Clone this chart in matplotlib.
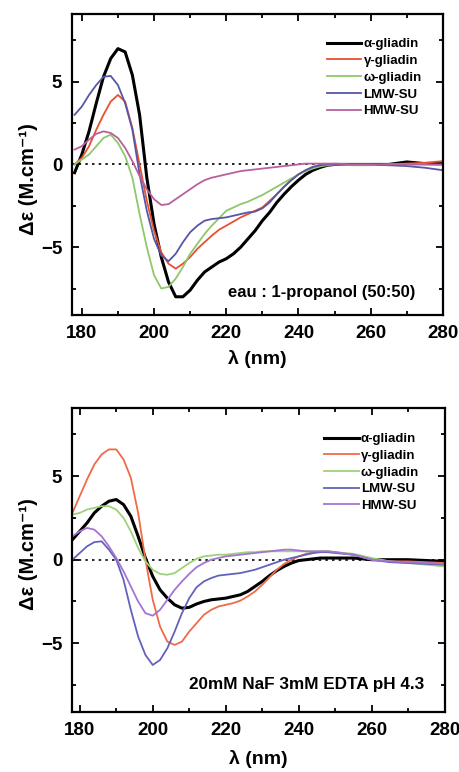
'''
CD spectra of gluten proteins in two solvents (two stacked panels).
'''

import matplotlib.pyplot as plt
from matplotlib.ticker import MultipleLocator

plt.rcParams['font.family'] = ['Liberation Sans', 'DejaVu Sans']
plt.rcParams['font.weight'] = 'bold'
plt.rcParams['axes.labelweight'] = 'bold'

wavelength = [178, 180, 182, 184, 186, 188, 190, 192, 194, 196, 198, 200, 202, 204, 206,
              208, 210, 212, 214, 216, 218, 220, 222, 224, 226, 228, 230, 232, 234, 236,
              238, 240, 242, 244, 246, 248, 250, 255, 260, 265, 270, 275, 280]

labels = ['α-gliadin', 'γ-gliadin', 'ω-gliadin', 'LMW-SU', 'HMW-SU']

# panel 1 : eau / 1-propanol
top_alpha = [-0.5, 0.6, 2.0, 3.7, 5.3, 6.4, 7.0, 6.8, 5.4, 3.0, -0.8, -3.6, -5.6, -7.1, -8.0,
             -8.0, -7.6, -7.0, -6.5, -6.2, -5.9, -5.7, -5.4, -5.0, -4.5, -4.0, -3.4, -2.9, -2.3,
             -1.8, -1.35, -0.95, -0.6, -0.35, -0.18, -0.05, 0.0, 0.0, 0.0, 0.0, 0.15, 0.05, 0.05]
top_gamma = [0.0, 0.4, 1.1, 2.1, 3.0, 3.8, 4.2, 3.8, 2.2, 0.0, -2.2, -4.0, -5.3, -6.0, -6.3,
             -6.0, -5.6, -5.1, -4.7, -4.3, -3.95, -3.7, -3.45, -3.2, -3.0, -2.8, -2.6, -2.2, -1.8,
             -1.35, -0.95, -0.6, -0.35, -0.15, -0.05, 0.0, 0.0, 0.0, 0.0, 0.0, 0.05, 0.1, 0.2]
top_omega = [0.0, 0.3, 0.6, 1.1, 1.6, 1.8, 1.3, 0.5, -0.8, -3.0, -5.0, -6.7, -7.5, -7.4, -6.9,
             -6.2, -5.4, -4.8, -4.2, -3.7, -3.25, -2.8, -2.6, -2.4, -2.25, -2.05, -1.85, -1.6,
             -1.35, -1.1, -0.85, -0.6, -0.4, -0.25, -0.12, -0.05, 0.0, -0.05, -0.05, 0.0, 0.0,
             0.0, -0.05]
top_lmw = [3.0, 3.5, 4.2, 4.8, 5.3, 5.35, 4.8, 3.7, 2.1, -0.6, -2.8, -4.5, -5.5, -5.85, -5.4,
           -4.7, -4.1, -3.7, -3.4, -3.3, -3.25, -3.2, -3.1, -3.0, -2.9, -2.85, -2.65, -2.3, -1.8,
           -1.35, -0.95, -0.6, -0.35, -0.15, -0.05, 0.0, 0.0, 0.0, 0.0, -0.05, -0.1, -0.2, -0.35]
top_hmw = [0.9, 1.1, 1.5, 1.85, 2.0, 1.9, 1.6, 1.0, 0.2, -0.7, -1.5, -2.1, -2.45, -2.4, -2.1,
           -1.8, -1.5, -1.2, -0.95, -0.8, -0.7, -0.6, -0.5, -0.4, -0.35, -0.3, -0.25, -0.2,
           -0.15, -0.1, -0.05, 0.0, 0.05, 0.05, 0.05, 0.05, 0.05, 0.0, 0.0, 0.0, 0.0, 0.0, 0.0]

# panel 2 : NaF / EDTA buffer
bot_alpha = [1.2, 1.7, 2.2, 2.8, 3.2, 3.5, 3.6, 3.3, 2.6, 1.4, 0.1, -1.0, -1.8, -2.3, -2.7,
             -2.9, -2.85, -2.65, -2.5, -2.4, -2.35, -2.3, -2.2, -2.1, -1.9, -1.6, -1.3, -0.95,
             -0.65, -0.4, -0.2, -0.05, 0.0, 0.05, 0.1, 0.1, 0.1, 0.1, 0.0, 0.0, 0.0, -0.05, -0.1]
bot_gamma = [2.8, 3.8, 4.8, 5.7, 6.3, 6.6, 6.6, 6.0, 4.9, 2.8, 0.0, -2.4, -4.0, -4.9, -5.1,
             -4.9, -4.3, -3.8, -3.3, -3.0, -2.8, -2.7, -2.6, -2.45, -2.2, -1.9, -1.5, -1.05,
             -0.6, -0.25, 0.0, 0.2, 0.35, 0.45, 0.5, 0.5, 0.45, 0.3, 0.0, -0.1, -0.1, -0.15, -0.2]
bot_omega = [2.7, 2.8, 3.0, 3.1, 3.2, 3.2, 3.0, 2.5, 1.7, 0.7, -0.1, -0.6, -0.85, -0.9, -0.8,
             -0.5, -0.2, 0.05, 0.2, 0.25, 0.3, 0.3, 0.35, 0.4, 0.45, 0.45, 0.5, 0.5, 0.5, 0.5,
             0.5, 0.5, 0.5, 0.5, 0.5, 0.5, 0.45, 0.35, 0.1, -0.1, -0.2, -0.3, -0.4]
bot_lmw = [0.0, 0.4, 0.8, 1.05, 1.1, 0.6, 0.0, -1.2, -3.0, -4.6, -5.7, -6.3, -6.0, -5.3, -4.3,
           -3.2, -2.3, -1.65, -1.3, -1.1, -0.95, -0.9, -0.85, -0.8, -0.7, -0.6, -0.45, -0.3,
           -0.15, 0.0, 0.1, 0.2, 0.3, 0.4, 0.45, 0.45, 0.4, 0.3, 0.0, -0.15, -0.2, -0.25, -0.3]
bot_hmw = [1.4, 1.7, 1.9, 1.8, 1.4, 0.8, 0.1, -0.7, -1.6, -2.5, -3.2, -3.35, -3.0, -2.4, -1.8,
           -1.3, -0.85, -0.45, -0.2, 0.0, 0.1, 0.2, 0.25, 0.3, 0.35, 0.4, 0.45, 0.5, 0.55, 0.6,
           0.6, 0.55, 0.5, 0.5, 0.5, 0.5, 0.45, 0.3, 0.0, -0.1, -0.15, -0.2, -0.25]

top_colors = ['black', '#e8502e', '#8ec86a', '#5656a8', '#b8609e']
bot_colors = ['black', '#f06a48', '#9ed27a', '#6262bc', '#a474d2']

fig = plt.figure(figsize=(4.59, 7.72), dpi=100)
ax1 = fig.add_axes([0.157, 0.592, 0.808, 0.390])
ax2 = fig.add_axes([0.157, 0.078, 0.812, 0.394])


def draw_panel(ax, series, colors, note, xmin, note_x, note_y, note_size,
               leg_anchor, ylab_y, xlab_pad):
    ax.axhline(0, color='black', ls=(0, (1.5, 2.5)), lw=1.2, zorder=1)
    for values, color, label in zip(series, colors, labels):
        lw = 2.2 if color == 'black' else 1.3
        ax.plot(wavelength, values, color=color, lw=lw, label=label, zorder=2)

    ax.set_xlim(xmin, 280)
    ax.set_ylim(-9.1, 9.1)
    ax.xaxis.set_major_locator(MultipleLocator(20))
    ax.xaxis.set_minor_locator(MultipleLocator(10))
    ax.yaxis.set_major_locator(MultipleLocator(5))
    ax.yaxis.set_minor_locator(MultipleLocator(2.5))
    ax.tick_params(which='both', direction='in', top=True, right=True, width=1.3)
    ax.tick_params(which='major', length=5, labelsize=13.5, pad=7)
    ax.tick_params(which='minor', length=3)
    for spine in ax.spines.values():
        spine.set_linewidth(1.6)

    ax.set_xlabel('λ (nm)', fontsize=14, labelpad=xlab_pad)
    ax.set_ylabel('Δε (M.cm⁻¹)', fontsize=14.5)
    ax.yaxis.set_label_coords(-0.092, ylab_y)
    ax.text(note_x, note_y, note, transform=ax.transAxes, ha='right', va='center',
            fontsize=note_size)
    ax.legend(loc='upper right', bbox_to_anchor=leg_anchor, borderaxespad=0,
              frameon=False, fontsize=9.5, handlelength=2.65, handletextpad=0.15,
              labelspacing=0.34)


draw_panel(ax1, [top_alpha, top_gamma, top_omega, top_lmw, top_hmw], top_colors,
           'eau : 1-propanol (50:50)', 177.3, 0.925, 0.073, 12,
           (0.957, 0.937), 0.45, 6)
draw_panel(ax2, [bot_alpha, bot_gamma, bot_omega, bot_lmw, bot_hmw], bot_colors,
           '20mM NaF 3mM EDTA pH 4.3', 177.9, 0.945, 0.089, 12.3,
           (0.945, 0.934), 0.52, 8)

fig.savefig('out.png', dpi=100)
